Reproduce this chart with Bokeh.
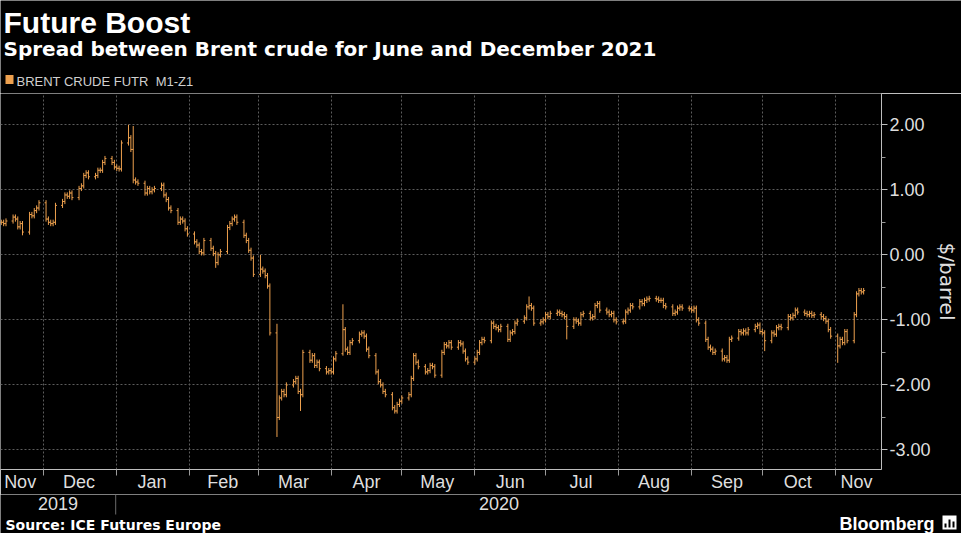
import pandas as pd
from bokeh.plotting import figure
from bokeh.layouts import column
from bokeh.models import ColumnDataSource, Range1d, FixedTicker, NumeralTickFormatter
from bokeh.core.properties import value
from bokeh.embed import file_html
from bokeh.resources import INLINE

# ---------------- data (daily closes) ----------------
nov19_start = "2019-11-13"
nov19 = [0.50, 0.48, 0.52, 0.58, 0.55, 0.43, 0.48, 0.35, 0.62, 0.60, 0.68, 0.72, 0.80]
dec19_start = "2019-12-02"
dec19 = [0.55, 0.50, 0.48, 0.50, 0.76, 0.82, 0.92, 0.90, 0.95, 0.88, 1.02, 1.06, 1.22, 1.26, 1.20,
         1.22, 1.30, 1.30, 1.42, 1.48, 1.42, 1.35]
jan20_start = "2020-01-01"
jan20 = [1.33, 1.32, 1.72, 1.80, 1.62, 1.15, 1.12, 1.10, 0.95, 1.02, 0.97, 1.00, 1.02, 1.07, 0.92,
         0.85, 0.72, 0.68, 0.50, 0.55, 0.52, 0.40, 0.32]
feb20_start = "2020-02-03"
feb20 = [0.20, 0.15, 0.05, 0.03, 0.22, 0.10, 0.02, -0.12, 0.00, 0.05, 0.42, 0.48, 0.55, 0.58, 0.50,
         0.30, 0.22, 0.07, -0.05, -0.30]
mar20_start = "2020-03-02"
mar20 = [-0.22, -0.25, -0.32, -0.48, -1.20, -2.50, -2.20, -2.10, -2.15, -2.00, -1.95, -1.90, -2.10,
         -2.15, -1.50, -1.62, -1.55, -1.70, -1.65, -1.75, -1.80, -1.78]
apr20_start = "2020-04-01"
apr20 = [-1.80, -1.60, -1.52, -1.15, -1.45, -1.50, -1.35, -1.32, -1.22, -1.20, -1.25, -1.45, -1.55,
         -1.80, -1.95, -2.00, -2.10, -2.15, -2.35, -2.40, -2.30, -2.25]
may20_start = "2020-05-01"
may20 = [-2.20, -2.15, -1.90, -1.55, -1.65, -1.72, -1.80, -1.78, -1.70, -1.72, -1.85, -1.50, -1.38,
         -1.40, -1.35, -1.42, -1.35, -1.37, -1.48, -1.60, -1.65]
jun20_start = "2020-06-01"
jun20 = [-1.60, -1.50, -1.35, -1.30, -1.32, -1.05, -1.10, -1.12, -1.15, -1.10, -1.30, -1.20, -1.18,
         -1.05, -1.02, -0.97, -0.80, -0.78, -0.82, -1.05, -1.03, -1.00]
jul20_start = "2020-07-01"
jul20 = [-0.92, -0.95, -0.90, -0.88, -0.90, -0.92, -0.95, -1.10, -1.00, -1.02, -1.05, -0.92, -0.90,
         -0.97, -0.95, -0.78, -0.75, -0.85, -0.88, -0.92, -0.90, -1.00, -1.03]
aug20_start = "2020-08-03"
aug20 = [-1.02, -0.88, -0.85, -0.78, -0.80, -0.72, -0.75, -0.70, -0.68, -0.67, -0.68, -0.70, -0.70,
         -0.78, -0.80, -0.90, -0.88, -0.82, -0.80, -0.82, -0.83]
sep20_start = "2020-09-01"
sep20 = [-0.85, -0.82, -1.00, -1.05, -1.30, -1.42, -1.45, -1.50, -1.48, -1.60, -1.58, -1.62, -1.30,
         -1.28, -1.18, -1.20, -1.17, -1.20, -1.15, -1.10, -1.08, -1.18]
oct20_start = "2020-10-01"
oct20 = [-1.20, -1.32, -1.20, -1.22, -1.12, -1.10, -1.12, -0.95, -0.97, -0.93, -0.85, -0.88, -0.90,
         -0.92, -0.90, -0.93, -0.92, -0.95, -0.98, -1.02, -1.15, -1.25]
nov20_start = "2020-11-02"
nov20 = [-1.40, -1.30, -1.35, -1.18, -1.32, -0.92, -0.60, -0.55, -0.57, -0.55]

# notable intraday highs / lows
high_override = {"2020-01-06": 2.00, "2020-01-08": 1.98, "2020-03-09": -1.06, "2020-04-06": -0.76,
                 "2020-06-24": -0.64, "2020-03-02": 0.00}
low_override = {"2020-01-08": 1.10, "2020-03-09": -2.80, "2020-03-19": -2.40, "2020-04-06": -1.55,
                "2020-07-10": -1.30, "2019-11-22": 0.30, "2020-02-12": -0.20, "2020-10-02": -1.48,
                "2020-11-02": -1.66}

month_starts = ["2019-12-01", "2020-01-01", "2020-02-01", "2020-03-01", "2020-04-01", "2020-05-01",
                "2020-06-01", "2020-07-01", "2020-08-01", "2020-09-01", "2020-10-01", "2020-11-01"]
month_label_pos = ["2019-11-21", "2019-12-16", "2020-01-16", "2020-02-15", "2020-03-16", "2020-04-16",
                   "2020-05-16", "2020-06-16", "2020-07-16", "2020-08-16", "2020-09-16", "2020-10-16",
                   "2020-11-10"]
month_labels = ["Nov", "Dec", "Jan", "Feb", "Mar", "Apr", "May", "Jun", "Jul", "Aug", "Sep", "Oct", "Nov"]
year_label_pos = ["2019-12-07", "2020-06-11"]
year_labels = ["2019", "2020"]
year_break = ["2019-12-31 12:00"]
y_ticks = [-3, -2, -1, 0, 1, 2]
y_minor = [-2.5, -1.5, -0.5, 0.5, 1.5, 2.5]

title_text = "Future Boost"
subtitle_text = "Spread between Brent crude for June and December 2021"
legend_text = "BRENT CRUDE FUTR \u00a0M1-Z1"
source_text = "Source: ICE Futures Europe"
brand_text = "Bloomberg"
y_label = "$/barrel"

# ---------------- build OHLC table ----------------
segments = [(nov19_start, nov19), (dec19_start, dec19), (jan20_start, jan20), (feb20_start, feb20),
            (mar20_start, mar20), (apr20_start, apr20), (may20_start, may20), (jun20_start, jun20),
            (jul20_start, jul20), (aug20_start, aug20), (sep20_start, sep20), (oct20_start, oct20),
            (nov20_start, nov20)]
dates, closes = [], []
for start, vals in segments:
    dates.extend(pd.bdate_range(start, periods=len(vals)))
    closes.extend(vals)

opens = [closes[0]] + closes[:-1]
highs, lows = [], []
for d, o, c in zip(dates, opens, closes):
    key = d.strftime("%Y-%m-%d")
    highs.append(high_override.get(key, max(o, c) + 0.04))
    lows.append(low_override.get(key, min(o, c) - 0.04))

half = pd.Timedelta(hours=15)
src = ColumnDataSource(dict(
    date=dates, left=[d - half for d in dates], right=[d + half for d in dates],
    open=opens, high=highs, low=lows, close=closes))


def ms(d):
    return pd.Timestamp(d).value / 1e6


ORANGE = "#EDA04E"
TXT = "#dedede"
BG = "black"
W = 961
HEAD_H = 93
MAIN_H = 401
FOOT_H = 533 - HEAD_H - MAIN_H
FRAME_W = 882

x_start = pd.Timestamp("2019-11-12 16:00")
x_end = pd.Timestamp("2020-11-20 14:00")


def bare(fig):
    fig.xgrid.visible = False
    fig.ygrid.visible = False
    return fig


def unalign(fig):
    try:
        fig.frame_align = False
    except Exception:
        pass
    return fig


# ---------------- header ----------------
head = bare(figure(width=W, height=HEAD_H, x_range=Range1d(0, W), y_range=Range1d(0, HEAD_H),
                   x_axis_location=None, y_axis_location=None, output_backend="svg",
                   toolbar_location=None, background_fill_color=BG, border_fill_color=BG,
                   outline_line_color=None, min_border=0))
unalign(head)
head.text(x=[3], y=[71], text=[title_text], text_font=value("Liberation Sans"), text_font_style="bold",
          text_font_size="30px", text_color="white", text_baseline="alphabetic")
head.text(x=[3], y=[45], text=[subtitle_text], text_font=value("DejaVu Sans"), text_font_style="bold",
          text_font_size="20px", text_color="white", text_baseline="alphabetic")
head.rect(x=[9], y=[14], width=8, height=9, fill_color=ORANGE, line_color=None)
head.text(x=[16], y=[12.5], text=[legend_text], text_font=value("Liberation Sans"),
          text_font_size="13px", text_color="#cfcfcf", text_baseline="alphabetic")

# ---------------- main chart ----------------
p = figure(width=W, height=MAIN_H, x_axis_type="datetime", y_axis_location="right",
           x_range=Range1d(x_start, x_end), y_range=Range1d(-3.3, 2.48),
           output_backend="svg", toolbar_location=None,
           background_fill_color=BG, border_fill_color=BG, outline_line_color=None,
           min_border_top=0, min_border_bottom=25, min_border_left=0, min_border_right=W - FRAME_W)
unalign(p)

p.segment(x0="date", y0="low", x1="date", y1="high", source=src, line_color=ORANGE, line_width=1)
p.segment(x0="left", y0="open", x1="date", y1="open", source=src, line_color=ORANGE, line_width=1)
p.segment(x0="date", y0="close", x1="right", y1="close", source=src, line_color=ORANGE, line_width=1)

p.xgrid.ticker = FixedTicker(ticks=[ms(d) for d in month_starts])
p.ygrid.ticker = FixedTicker(ticks=y_ticks)
for g in (p.xgrid, p.ygrid):
    g.grid_line_color = "#5c5c5c"
    g.grid_line_dash = "2 2"
    g.grid_line_width = 1

ax = p.xaxis[0]
ax.ticker = FixedTicker(ticks=[ms(d) for d in month_label_pos], minor_ticks=[ms(d) for d in month_starts])
ax.major_label_overrides = {ms(d): lab for d, lab in zip(month_label_pos, month_labels)}
ax.major_tick_out = 0
ax.major_tick_in = 0
ax.minor_tick_out = 6
ax.minor_tick_in = 0
ax.minor_tick_line_color = "#9a9a9a"
ax.axis_line_color = "#bdbdbd"
ax.major_label_text_font = "Liberation Sans"
ax.major_label_text_font_size = "18px"
ax.major_label_text_color = TXT
ax.major_label_standoff = -4

yax = p.yaxis[0]
yax.ticker = FixedTicker(ticks=y_ticks, minor_ticks=y_minor)
yax.formatter = NumeralTickFormatter(format="0.00")
yax.axis_line_color = "#bdbdbd"
yax.major_tick_line_color = "#bdbdbd"
yax.minor_tick_line_color = "#9a9a9a"
yax.major_tick_out = 6
yax.major_tick_in = 0
yax.minor_tick_out = 4
yax.minor_tick_in = 0
yax.major_label_text_font = "Liberation Sans"
yax.major_label_text_font_size = "18px"
yax.major_label_text_color = TXT
yax.major_label_standoff = 2
yax.axis_label = y_label
yax.axis_label_text_font = "DejaVu Sans"
yax.axis_label_text_font_size = "20px"
yax.axis_label_text_font_style = "normal"
yax.axis_label_text_color = TXT
yax.axis_label_standoff = 1

# ---------------- footer (years, source, brand) ----------------
foot_end = x_start + (x_end - x_start) * (W / FRAME_W)
foot = bare(figure(width=W, height=FOOT_H, x_axis_type="datetime",
                   x_range=Range1d(x_start, foot_end), y_range=Range1d(0, FOOT_H),
                   x_axis_location=None, y_axis_location=None, output_backend="svg",
                   toolbar_location=None, background_fill_color=BG, border_fill_color=BG,
                   outline_line_color=None, min_border=0))
unalign(foot)
foot.extra_x_ranges = {"px": Range1d(0, W)}
foot.text(x=[pd.Timestamp(d) for d in year_label_pos], y=[30] * len(year_labels), text=year_labels,
          text_font=value("Liberation Sans"), text_font_size="18px", text_color=TXT,
          text_align="center", text_baseline="alphabetic")
foot.segment(x0=[pd.Timestamp(d) for d in year_break], y0=[FOOT_H], x1=[pd.Timestamp(d) for d in year_break],
             y1=[19], line_color="#6a6a6a", line_width=1)
foot.text(x=[5], y=[9], text=[source_text], x_range_name="px", text_font=value("DejaVu Sans"),
          text_font_style="bold", text_font_size="14px", text_color="white", text_baseline="alphabetic")
foot.text(x=[934], y=[10], text=[brand_text], x_range_name="px", text_font=value("Liberation Sans"),
          text_font_style="bold", text_font_size="18px", text_color="white", text_baseline="alphabetic",
          text_align="right")
foot.rect(x=[949], y=[11], width=14, height=14, x_range_name="px", fill_color="white", line_color=None)
foot.rect(x=[945, 949, 953], y=[8, 10, 9], width=2, height=[4, 8, 6], x_range_name="px",
          fill_color="black", line_color=None)

layout = column(head, p, foot, spacing=0)
open("out.html", "w").write(file_html(layout, INLINE))
